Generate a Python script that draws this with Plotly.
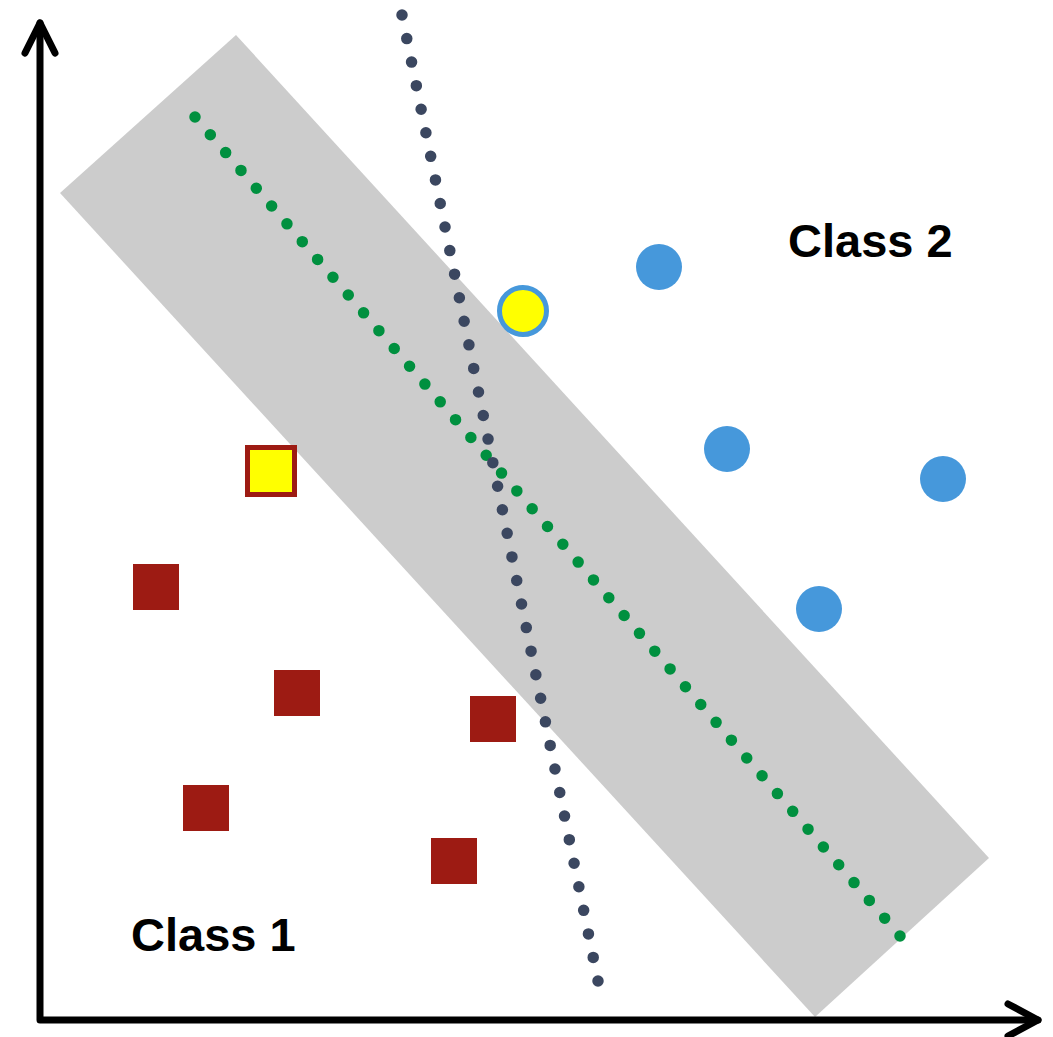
import math
import plotly.graph_objects as go

# Feature space: x1 to the right, x2 upward, origin at the corner of the axes.
# Class 1 samples (squares)
class1_x = [116, 257, 453, 166, 414]
class1_y = [433, 327, 301, 212, 159]
# Class 1 support vector
sv1_x = [231]
sv1_y = [549]

# Class 2 samples (circles)
class2_x = [619, 687, 903, 779]
class2_y = [753, 571, 541, 411]
# Class 2 support vector
sv2_x = [483]
sv2_y = [709]

# Maximum-margin band (corners of the rotated strip)
margin_x = [20, 196, 949, 775, 20]
margin_y = [827, 985, 162, 3, 827]

# Optimal separating hyperplane (end points)
opt_x = [155, 860]
opt_y = [903, 84]

# An alternative, poorer separating line (end points)
alt_x = [362, 558]
alt_y = [1005, 39]

# Text labels
label_text = ["Class 1", "Class 2"]
label_x = [173, 830]
label_y = [86, 780]

RED = "#9d1b13"
BLUE = "#4698db"
YELLOW = "#ffff00"
GREEN = "#00903f"
SLATE = "#3b4760"
GRAY = "#cccccc"


def dot_pattern(xs, ys, gaps):
    length = math.hypot(xs[1] - xs[0], ys[1] - ys[0])
    return "0px,%.3fpx" % (length / gaps)


fig = go.Figure()

fig.add_trace(go.Scatter(
    x=margin_x, y=margin_y, mode="lines", fill="toself",
    fillcolor=GRAY, line=dict(width=0, color=GRAY), hoverinfo="skip",
))

fig.add_trace(go.Scatter(
    x=opt_x, y=opt_y, mode="lines",
    line=dict(color=GREEN, width=11.5, dash=dot_pattern(opt_x, opt_y, 46)),
    hoverinfo="skip",
))

fig.add_trace(go.Scatter(
    x=alt_x, y=alt_y, mode="lines",
    line=dict(color=SLATE, width=11.5, dash=dot_pattern(alt_x, alt_y, 41)),
    hoverinfo="skip",
))

fig.add_trace(go.Scatter(
    x=class1_x, y=class1_y, mode="markers",
    marker=dict(symbol="square", size=46, color=RED, line=dict(width=0)),
    hoverinfo="skip",
))
fig.add_trace(go.Scatter(
    x=sv1_x, y=sv1_y, mode="markers",
    marker=dict(symbol="square", size=47, color=YELLOW,
                line=dict(width=5, color=RED)),
    hoverinfo="skip",
))

fig.add_trace(go.Scatter(
    x=class2_x, y=class2_y, mode="markers",
    marker=dict(symbol="circle", size=46, color=BLUE, line=dict(width=0)),
    hoverinfo="skip",
))
fig.add_trace(go.Scatter(
    x=sv2_x, y=sv2_y, mode="markers",
    marker=dict(symbol="circle", size=47, color=YELLOW,
                line=dict(width=5, color=BLUE)),
    hoverinfo="skip",
))

# Coordinate axes with open arrow heads
AXIS_TOP = 997
AXIS_RIGHT = 998
HEAD = 30
HALF = 15
fig.add_trace(go.Scatter(
    x=[0, 0, AXIS_RIGHT], y=[AXIS_TOP, 0, 0], mode="lines",
    line=dict(color="black", width=7), hoverinfo="skip",
))
fig.add_trace(go.Scatter(
    x=[-HALF, 0, HALF], y=[AXIS_TOP - HEAD, AXIS_TOP, AXIS_TOP - HEAD],
    mode="lines", line=dict(color="black", width=7), hoverinfo="skip",
))
fig.add_trace(go.Scatter(
    x=[AXIS_RIGHT - HEAD, AXIS_RIGHT, AXIS_RIGHT - HEAD], y=[HALF + 1, 0, -HALF - 1],
    mode="lines", line=dict(color="black", width=7), hoverinfo="skip",
))

for t, tx, ty in zip(label_text, label_x, label_y):
    fig.add_annotation(
        x=tx, y=ty, text="<b>%s</b>" % t, showarrow=False,
        font=dict(family="Liberation Sans, Arial, sans-serif", size=47, color="black"),
        xanchor="center", yanchor="middle",
    )

fig.update_layout(
    width=1053, height=1037,
    margin=dict(l=0, r=0, t=0, b=0, pad=0),
    paper_bgcolor="white", plot_bgcolor="white",
    showlegend=False,
    xaxis=dict(range=[-40, 1013], visible=False, fixedrange=True),
    yaxis=dict(range=[-17, 1020], visible=False, fixedrange=True),
)

# Round line caps turn the zero-length dashes into round dots.
post = """
document.body.style.margin = '0';
var gd = document.getElementById('{plot_id}');
function roundCaps() {
  gd.querySelectorAll('.scatterlayer .js-line').forEach(function (p) {
    p.style.strokeLinecap = 'round';
    p.style.strokeLinejoin = 'round';
  });
}
roundCaps();
gd.on('plotly_afterplot', roundCaps);
"""

fig.write_html("out.html", post_script=post, config={"displayModeBar": False})
